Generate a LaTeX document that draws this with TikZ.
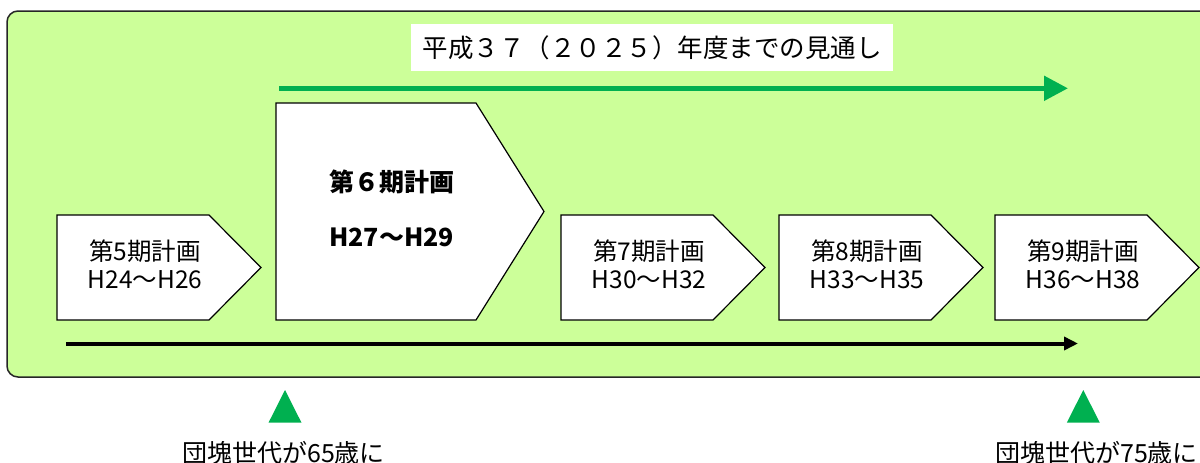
\documentclass[tikz,border=0pt]{standalone}
\usepackage{fontspec}
\setmainfont{Noto Sans CJK JP}
\usetikzlibrary{arrows.meta}
\definecolor{bggreen}{RGB}{204,255,153}
\definecolor{mgreen}{RGB}{0,176,80}
\begin{document}
\begin{tikzpicture}[x=1pt,y=-1pt,
  planbox/.style={draw=black,fill=white,line width=1.2pt},
  plantext/.style={align=center,inner sep=0pt,font=\fontsize{24.5}{28}\selectfont},
  bigtext/.style={align=center,inner sep=0pt,font=\fontsize{25}{55}\selectfont\bfseries},
  marker/.style={fill=mgreen,draw=none},
  boomer/.style={anchor=west,inner sep=0pt,font=\fontsize{25}{30}\selectfont}]
\useasboundingbox (0,0) rectangle (1200,463);
\clip (0,0) rectangle (1200,463);
% background panel
\draw[fill=bggreen,draw=black!85,line width=1.5pt,rounded corners=11pt] (7,11) rectangle (1220,377);
% title
\node[fill=white,minimum width=482pt,minimum height=47pt,inner sep=0pt,
      font=\fontsize{25.5}{30}\selectfont] (title) at (652,47.5) {平成３７（２０２５）年度までの見通し};
% green arrow
\coordinate (gs) at (279,88.3);
\coordinate (ge) at (1068,88.3);
\draw[mgreen,line width=5pt,-{Triangle[length=24pt,width=24pt]}] (gs) -- (ge);
% plan boxes
\draw[planbox] (57,215) -- (209,215) -- (261,267.5) -- (209,320) -- (57,320) -- cycle;
\draw[planbox] (276,103) -- (476,103) -- (544,211.5) -- (476,320) -- (276,320) -- cycle;
\draw[planbox] (561,215) -- (713,215) -- (765,267.5) -- (713,320) -- (561,320) -- cycle;
\draw[planbox] (779,215) -- (931,215) -- (983,267.5) -- (931,320) -- (779,320) -- cycle;
\draw[planbox] (995,215) -- (1147,215) -- (1199,267.5) -- (1147,320) -- (995,320) -- cycle;
\node[plantext] (p5) at (145,264) {第5期計画\\H24〜H26};
\node[bigtext] (p6) at (391.5,208.3) {第６期計画\\H27〜H29};
\node[plantext] (p7) at (649,264) {第7期計画\\H30〜H32};
\node[plantext] (p8) at (867,264) {第8期計画\\H33〜H35};
\node[plantext] (p9) at (1083,264) {第9期計画\\H36〜H38};
% black arrow
\coordinate (bs) at (66,343.5);
\coordinate (be) at (1078,343.5);
\draw[black,line width=4pt,-{Triangle[length=14pt,width=13pt]}] (bs) -- (be);
% markers
\fill[marker] (285,390) -- (301.5,422.7) -- (268.5,422.7) -- cycle;
\fill[marker] (1083.3,390) -- (1099.8,422.7) -- (1066.8,422.7) -- cycle;
\node[boomer] (b65) at (182,453) {団塊世代が65歳に};
\node[boomer] (b75) at (995,453) {団塊世代が75歳に};
\end{tikzpicture}
\end{document}
